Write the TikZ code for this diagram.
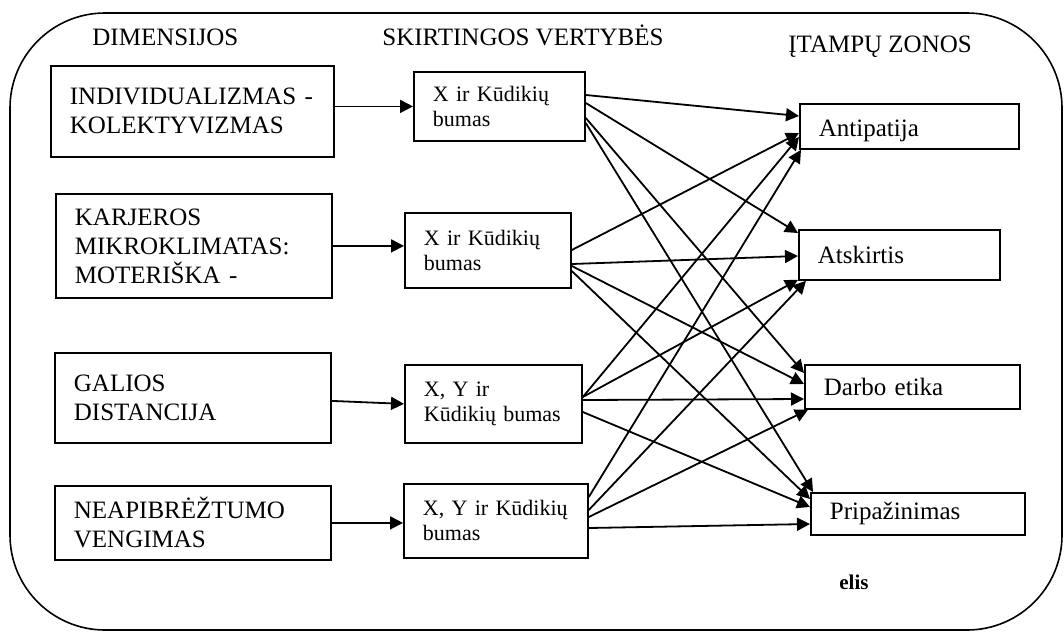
\documentclass[tikz,border=0pt]{standalone}
\usepackage{fontspec}
\setmainfont{Liberation Serif}
\usetikzlibrary{arrows.meta, positioning}

\begin{document}
\begin{tikzpicture}[
    x=0.5pt, y=-0.5pt,
    dimbox/.style={rectangle, draw, line width=0.9pt, anchor=north west,
                   align=left, inner xsep=9.5pt,
                   font=\fontsize{12.5}{14.5}\selectfont},
    valbox/.style={dimbox, font=\fontsize{11}{12.5}\selectfont},
    zonebox/.style={dimbox},
    head/.style={anchor=base west, inner sep=0pt,
                 font=\fontsize{12.5}{14.5}\selectfont},
    arrow/.style={-{Triangle[length=6.5pt, width=6.5pt]}, line width=0.9pt}
]
\useasboundingbox (0,0) rectangle (1064,632);

% Frame
\draw[line width=0.8pt, rounded corners=47.5pt] (10,13) rectangle (1062,630);

% Column heads
\node[head] (hdim) at (92,45) {DIMENSIJOS};
\node[head] (hval) at (382,45) {SKIRTINGOS VERTYBĖS};
\node[head] (hzone) at (788,52) {ĮTAMPŲ ZONOS};

% Dimensions (left column)
\node[dimbox, text width=122.5pt, minimum height=45.5pt] (dim1) at (50,65)
    {INDIVIDUALIZMAS -\\KOLEKTYVIZMAS};
\node[dimbox, text width=119pt, minimum height=52pt] (dim2) at (55,193)
    {KARJEROS\\MIKROKLIMATAS:\\MOTERIŠKA -};
\node[dimbox, text width=119pt, minimum height=45pt] (dim3) at (54,352)
    {GALIOS\\DISTANCIJA};
\node[dimbox, text width=119pt, minimum height=37pt] (dim4) at (54,485)
    {NEAPIBRĖŽTUMO\\VENGIMAS};

% Values (middle column)
\node[valbox, text width=66.5pt, minimum height=34.5pt] (val1) at (413,71)
    {X ir Kūdikių\\bumas};
\node[valbox, text width=64pt, minimum height=37.5pt] (val2) at (404,212)
    {X ir Kūdikių\\bumas};
\node[valbox, text width=69.5pt, minimum height=39pt] (val3) at (404,364)
    {X, Y ir\\Kūdikių bumas};
\node[valbox, text width=73pt, minimum height=37pt] (val4) at (403,483)
    {X, Y ir Kūdikių\\bumas};

% Tension zones (right column)
\node[zonebox, text width=90.5pt, minimum height=22.5pt, text height=12.5pt] (zone1) at (799,103) {Antipatija};
\node[zonebox, text width=81.5pt, minimum height=25pt] (zone2) at (798,229) {Atskirtis};
\node[zonebox, text width=88.5pt, minimum height=22pt] (zone3) at (804,364) {Darbo etika};
\node[zonebox, text width=88pt, minimum height=21pt] (zone4) at (810,492) {Pripažinimas};

\node[anchor=base west, inner sep=0pt, font=\fontsize{10.5}{12}\selectfont\bfseries]
    (note) at (839,589) {elis};

% Dimension -> values
\draw[arrow] (dim1.east|-val1.west) -- (val1.west);
\draw[arrow] (dim2.east) -- (val2.west|-dim2.east);
\draw[arrow] ([yshift=-1.5pt]dim3.east) -- (val3.west);
\draw[arrow] (dim4.east) -- (val4.west|-dim4.east);

% Values -> zones
\draw[arrow] ([yshift=-12pt]val1.north east) -- ([yshift=-6.5pt]zone1.north west);
\draw[arrow] ([yshift=-16pt]val1.north east) -- ([yshift=-2pt]zone2.north west);
\draw[arrow] ([yshift=-23.5pt]val1.north east) -- ([yshift=-4.5pt]zone3.north west);
\draw[arrow] ([yshift=-26pt]val1.north east) -- ([xshift=1.5pt]zone4.north west);

\draw[arrow] ([yshift=-19pt]val2.north east) -- ([yshift=-15pt]zone1.north west);
\draw[arrow] ([yshift=-26pt]val2.north east) -- ([yshift=-13.5pt]zone2.north west);
\draw[arrow] ([yshift=-27pt]val2.north east) -- ([yshift=-10pt]zone3.north west);
\draw[arrow] ([yshift=-29.5pt]val2.north east) -- ([yshift=-3.5pt]zone4.north west);

\draw[arrow] ([yshift=-16.5pt]val3.north east) -- ([yshift=-17pt]zone1.north west);
\draw[arrow] ([yshift=-16.5pt]val3.north east) -- ([yshift=0.5pt]zone2.south west);
\draw[arrow] ([yshift=-18pt]val3.north east) -- ([yshift=-17.5pt]zone3.north west);
\draw[arrow] ([yshift=-24pt]val3.north east) -- ([yshift=-7.5pt]zone4.north west);

\draw[arrow] ([yshift=-7pt]val4.north east) -- ([xshift=1pt]zone1.south west);
\draw[arrow] ([yshift=-13.5pt]val4.north east) -- ([xshift=4pt]zone2.south west);
\draw[arrow] ([yshift=-17pt]val4.north east) -- ([xshift=2pt]zone3.south west);
\draw[arrow] ([yshift=-22.5pt]val4.north east) -- ([yshift=-16pt]zone4.north west);

\end{tikzpicture}
\end{document}
